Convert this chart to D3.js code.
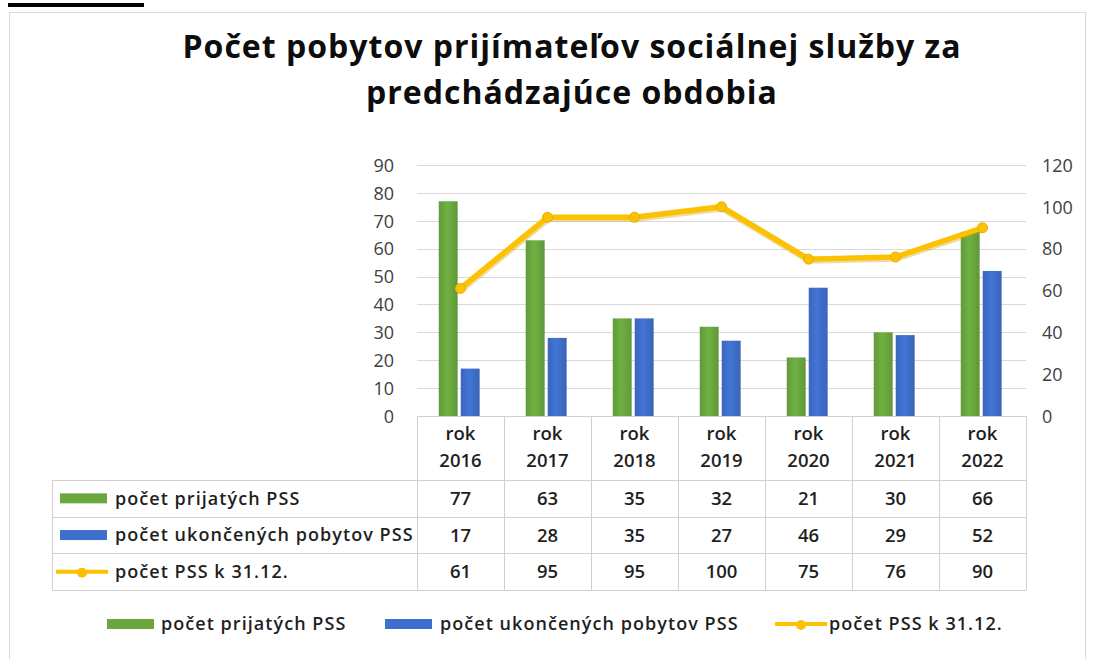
<!DOCTYPE html>
<html>
<head>
<meta charset="utf-8">
<script src="https://cdn.jsdelivr.net/npm/d3@7"></script>
<style>
  html, body { margin: 0; padding: 0; background: #fff; }
  svg { display: block; }
  text { font-family: "Open Sans", "Noto Sans", sans-serif; }
</style>
</head>
<body>
<svg id="chart" width="1095" height="659"></svg>
<script>
// ---------- DATA ----------
const titleLines = ["Počet pobytov prijímateľov sociálnej služby za", "predchádzajúce obdobia"];
const categories = ["rok 2016", "rok 2017", "rok 2018", "rok 2019", "rok 2020", "rok 2021", "rok 2022"];
const seriesNames = ["počet prijatých PSS", "počet ukončených pobytov PSS", "počet PSS k 31.12."];
const prijate = [77, 63, 35, 32, 21, 30, 66];
const ukoncene = [17, 28, 35, 27, 46, 29, 52];
const pocetPSS = [61, 95, 95, 100, 75, 76, 90];
const leftTicks = [0, 10, 20, 30, 40, 50, 60, 70, 80, 90];
const rightTicks = [0, 20, 40, 60, 80, 100, 120];

// ---------- STYLE / LAYOUT ----------
const green = "#6aa83f", blue = "#3f6fcc", yellow = "#fcc100";
const plot = { left: 417, right: 1026, top: 165, bottom: 416 };
const tableLeft = 52, headerBottom = 480, rowH = 36.7;
const txtCol = "#1f1f1f";
const svg = d3.select("#chart");

// gradients for bars
const defs = svg.append("defs");
function grad(id, c) {
  const g = defs.append("linearGradient").attr("id", id).attr("x1", 0).attr("x2", 1).attr("y1", 0).attr("y2", 0);
  g.append("stop").attr("offset", "0%").attr("stop-color", d3.color(c).darker(0.25));
  g.append("stop").attr("offset", "45%").attr("stop-color", d3.color(c).brighter(0.15));
  g.append("stop").attr("offset", "100%").attr("stop-color", d3.color(c).darker(0.3));
}
grad("gGreen", green); grad("gBlue", blue);

// top clipped heading underline
svg.append("rect").attr("x", 8).attr("y", 3).attr("width", 136).attr("height", 4).attr("fill", "#000");
// chart frame
svg.append("rect").attr("x", 9.5).attr("y", 12.5).attr("width", 1076).attr("height", 660)
  .attr("fill", "#fff").attr("stroke", "#d9d9d9");

// title
const title = svg.append("g");
title.selectAll("text").data(titleLines).join("text")
  .attr("x", 572).attr("y", (d, i) => 58 + i * 46)
  .attr("text-anchor", "middle").attr("font-size", 32).attr("font-weight", 700)
  .attr("letter-spacing", 1).attr("fill", "#0d0d0d").text(d => d);

// scales
const x = d3.scaleBand().domain(categories).range([plot.left, plot.right]);
const yL = d3.scaleLinear().domain([0, 90]).range([plot.bottom, plot.top]);
const yR = d3.scaleLinear().domain([0, 120]).range([plot.bottom, plot.top]);
const xSub = d3.scaleBand().domain([0, 1]).range([x.bandwidth() * 0.25, x.bandwidth() * 0.72]).paddingInner(0.14);

// gridlines
svg.append("g").selectAll("line").data(leftTicks.slice(1)).join("line")
  .attr("x1", plot.left).attr("x2", plot.right)
  .attr("y1", d => Math.round(yL(d)) + 0.5).attr("y2", d => Math.round(yL(d)) + 0.5)
  .attr("stroke", "#d9d9d9").attr("stroke-width", 1);

// axes
const axL = svg.append("g").attr("transform", `translate(${plot.left - 22},0)`)
  .call(d3.axisLeft(yL).tickValues(leftTicks).tickSize(0).tickPadding(0));
const axR = svg.append("g").attr("transform", `translate(${plot.right + 16},0)`)
  .call(d3.axisRight(yR).tickValues(rightTicks).tickSize(0).tickPadding(0));
[axL, axR].forEach(a => {
  a.select(".domain").remove();
  a.selectAll("text").attr("font-size", 18).attr("fill", "#404040")
    .style("font-family", '"Open Sans", sans-serif').attr("dy", "0.35em");
});
axL.selectAll("text").attr("dx", -1);

// bars
const groups = svg.append("g").selectAll("g").data(categories).join("g")
  .attr("transform", d => `translate(${x(d)},0)`);
groups.append("rect")
  .attr("x", xSub(0)).attr("width", xSub.bandwidth())
  .attr("y", (d, i) => yL(prijate[i])).attr("height", (d, i) => plot.bottom - yL(prijate[i]))
  .attr("fill", "url(#gGreen)");
groups.append("rect")
  .attr("x", xSub(1)).attr("width", xSub.bandwidth())
  .attr("y", (d, i) => yL(ukoncene[i])).attr("height", (d, i) => plot.bottom - yL(ukoncene[i]))
  .attr("fill", "url(#gBlue)");

// line
const lineGen = d3.line().x((d, i) => x(categories[i]) + x.bandwidth() / 2).y(d => yR(d));
svg.append("path").datum(pocetPSS).attr("d", lineGen)
  .attr("fill", "none").attr("stroke", "#c89a00").attr("stroke-width", 7).attr("opacity", 0.35)
  .attr("stroke-linejoin", "round").attr("transform", "translate(0.8,1.2)");
svg.append("path").datum(pocetPSS).attr("d", lineGen)
  .attr("fill", "none").attr("stroke", yellow).attr("stroke-width", 5.5).attr("stroke-linejoin", "round");
svg.append("g").selectAll("circle").data(pocetPSS).join("circle")
  .attr("cx", (d, i) => x(categories[i]) + x.bandwidth() / 2).attr("cy", d => yR(d))
  .attr("r", 5).attr("fill", yellow).attr("stroke", "#e6b000").attr("stroke-width", 1);

// ---------- DATA TABLE ----------
const tg = svg.append("g");
const tableBottom = headerBottom + rowH * 3;
const lineCol = "#d0d0d0";
const tStyle = t => t.attr("font-size", 18).attr("font-weight", 600).attr("fill", txtCol);
// header verticals (from axis down)
tg.selectAll("line.v").data(d3.range(categories.length + 1)).join("line").attr("class", "v")
  .attr("x1", i => Math.round(plot.left + i * x.step()) + 0.5).attr("x2", i => Math.round(plot.left + i * x.step()) + 0.5)
  .attr("y1", plot.bottom).attr("y2", tableBottom).attr("stroke", lineCol);
// left border of the row label area
tg.append("line").attr("x1", tableLeft + 0.5).attr("x2", tableLeft + 0.5).attr("y1", headerBottom).attr("y2", tableBottom).attr("stroke", lineCol);
// horizontals
tg.append("line").attr("x1", plot.left).attr("x2", plot.right).attr("y1", plot.bottom + 0.5).attr("y2", plot.bottom + 0.5).attr("stroke", lineCol);
tg.selectAll("line.h").data(d3.range(4)).join("line").attr("class", "h")
  .attr("x1", tableLeft).attr("x2", plot.right)
  .attr("y1", i => Math.round(headerBottom + i * rowH) + 0.5).attr("y2", i => Math.round(headerBottom + i * rowH) + 0.5)
  .attr("stroke", lineCol);

// header labels
categories.forEach(c => {
  const parts = c.split(" ");
  const t = tg.append("text").attr("text-anchor", "middle").call(tStyle).attr("font-size", 18.5);
  parts.forEach((p, j) => t.append("tspan").attr("x", x(c) + x.bandwidth() / 2).attr("y", 440 + j * 27).text(p));
});

// row data
const rows = [prijate, ukoncene, pocetPSS];
rows.forEach((vals, r) => {
  const cy = headerBottom + rowH * (r + 0.5);
  tg.selectAll(null).data(vals).join("text")
    .attr("x", (d, i) => x(categories[i]) + x.bandwidth() / 2).attr("y", cy).attr("dy", "0.35em")
    .attr("text-anchor", "middle").call(tStyle).attr("font-size", 18.5).text(d => d);
  // row key + label
  drawKey(tg, r, 60, cy);
  tg.append("text").attr("x", 115).attr("y", cy).attr("dy", "0.35em").call(tStyle)
    .attr("letter-spacing", 1.05).text(seriesNames[r]);
});

function drawKey(g, r, x0, cy) {
  if (r < 2) {
    g.append("rect").attr("x", x0).attr("y", cy - 5).attr("width", 47).attr("height", 10)
      .attr("fill", r === 0 ? green : blue);
  } else {
    g.append("line").attr("x1", x0 - 4).attr("x2", x0 + 48).attr("y1", cy).attr("y2", cy)
      .attr("stroke", yellow).attr("stroke-width", 4);
    g.append("circle").attr("cx", x0 + 22).attr("cy", cy + 1).attr("r", 5).attr("fill", yellow);
  }
}

// ---------- LEGEND ----------
const legendItems = [
  { r: 0, kx: 107, tx: 161 },
  { r: 1, kx: 385, tx: 440 },
  { r: 2, kx: 779, tx: 829 }
];
const lg = svg.append("g");
legendItems.forEach(it => {
  drawKey(lg, it.r, it.kx, 624);
  lg.append("text").attr("x", it.tx).attr("y", 624).attr("dy", "0.35em").call(tStyle)
    .attr("letter-spacing", 1.05).text(seriesNames[it.r]);
});
</script>
</body>
</html>
